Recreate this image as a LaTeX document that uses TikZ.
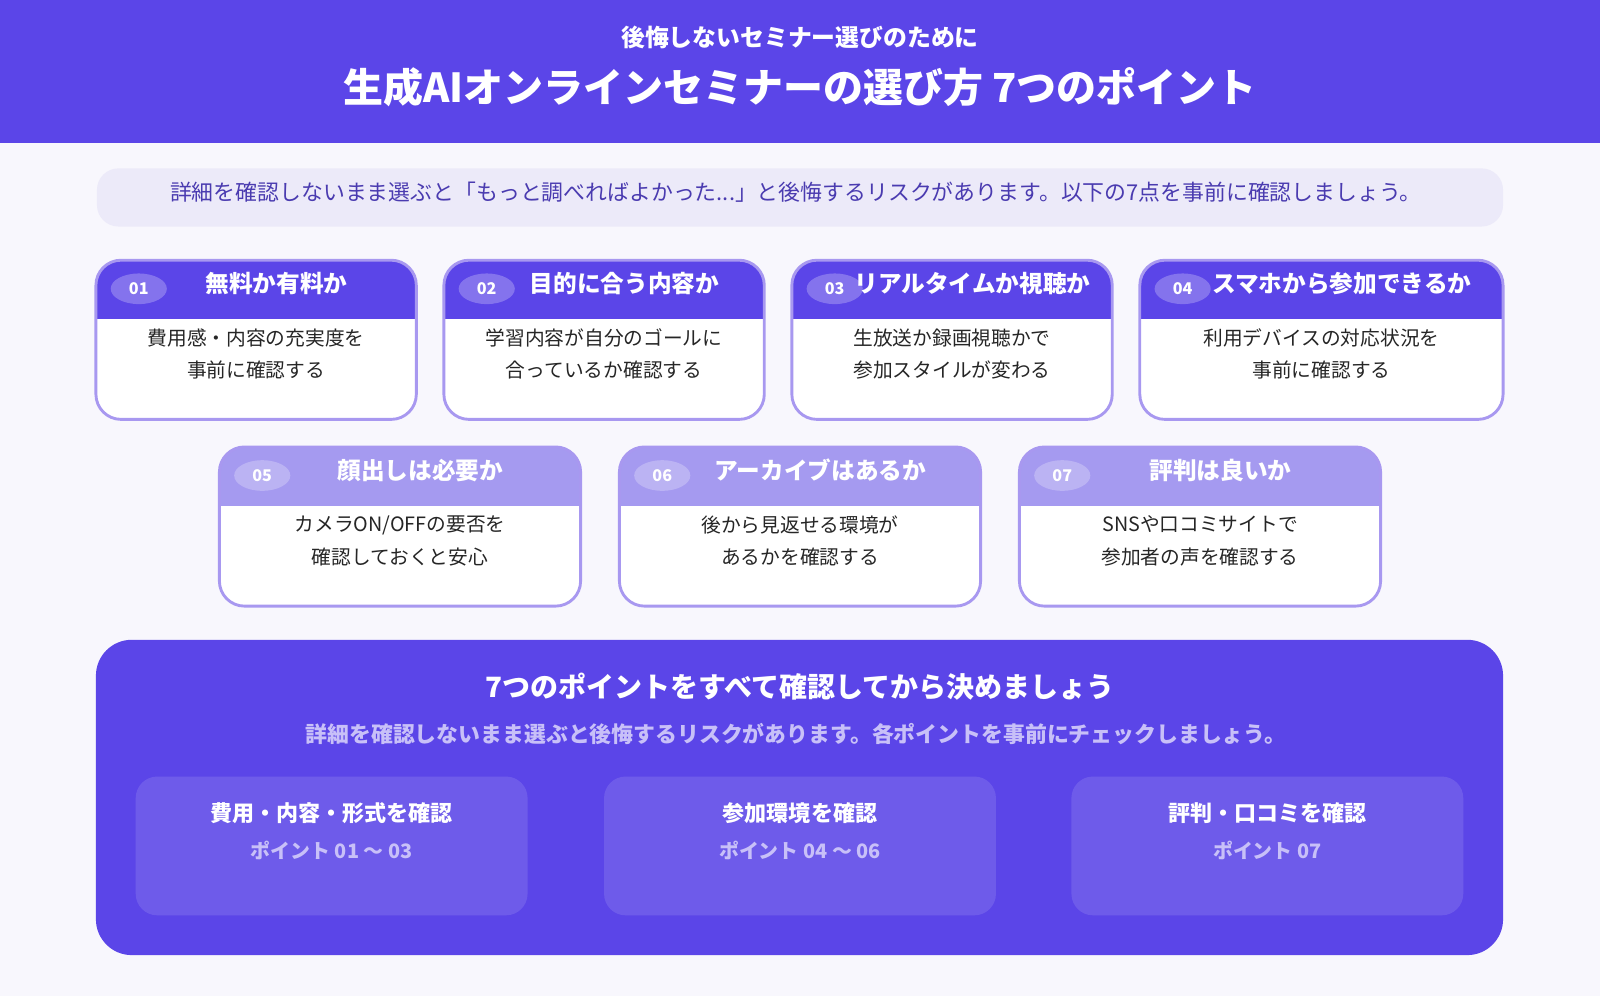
\documentclass[tikz,border=0pt]{standalone}
\usepackage{fontspec}
\usetikzlibrary{shapes.geometric}
\setmainfont{Noto Sans CJK JP}
\definecolor{indigo}{HTML}{5B45E8}
\definecolor{lilac}{HTML}{A59AF0}
\definecolor{rim}{HTML}{A898F0}
\definecolor{paper}{HTML}{F8F7FD}
\definecolor{introbg}{HTML}{ECEAF9}
\definecolor{introfg}{HTML}{4A3BB0}
\definecolor{softfg}{HTML}{C8C0F8}
\begin{document}
\begin{tikzpicture}[
    x=0.02cm, y=-0.02cm,
    title/.style={text=white, font=\bfseries\fontsize{13.2}{15}\selectfont},
    body/.style={text=black!85, font=\fontsize{11}{18}\selectfont, align=center},
    badge/.style={ellipse, fill=white, fill opacity=.25, text opacity=1, text=white, minimum width=55*0.02cm, minimum height=30*0.02cm, inner sep=0pt, font=\bfseries\fontsize{9}{10}\selectfont},
    sumbox/.style={fill=white, fill opacity=.12, rounded corners=12}
]
\useasboundingbox (0,0) rectangle (1568,976);
\fill[paper] (0,0) rectangle (1568,976);

% Header
\fill[indigo] (0,0) rectangle (1568,140);
\node[text=white, font=\bfseries\fontsize{13.3}{15}\selectfont] (sub) at (784,37) {後悔しないセミナー選びのために};
\node[text=white, font=\bfseries\fontsize{22.3}{25}\selectfont] (head) at (784,85) {生成AIオンラインセミナーの選び方 7つのポイント};

% Intro
\fill[introbg, rounded corners=12] (95,165) rectangle (1473,222);
\node[text=introfg, font=\fontsize{12.2}{14}\selectfont] (intro) at (780,188) {詳細を確認しないまま選ぶと「もっと調べればよかった...」と後悔するリスクがあります。以下の7点を事前に確認しましょう。};

% Cards
\foreach \n/\xa/\xb/\ya/\hc/\ttl/\la/\lb in {
  01/94/408/255/indigo/無料か有料か/費用感・内容の充実度を/事前に確認する,
  02/435/749/255/indigo/目的に合う内容か/学習内容が自分のゴールに/合っているか確認する,
  03/776/1090/255/indigo/リアルタイムか視聴か/生放送か録画視聴かで/参加スタイルが変わる,
  04/1117/1473/255/indigo/スマホから参加できるか/利用デバイスの対応状況を/事前に確認する,
  05/215/569/438/lilac/顔出しは必要か/{カメラON/OFFの要否を}/確認しておくと安心,
  06/607/961/438/lilac/アーカイブはあるか/後から見返せる環境が/あるかを確認する,
  07/999/1353/438/lilac/評判は良いか/SNSや口コミサイトで/参加者の声を確認する}{
  \fill[white, rounded corners=14] (\xa,\ya) rectangle (\xb,\ya+156);
  \begin{scope}
    \clip[rounded corners=14] (\xa,\ya) rectangle (\xb,\ya+156);
    \fill[\hc] (\xa,\ya) rectangle (\xb,\ya+58);
  \end{scope}
  \draw[rim, line width=1.6pt, rounded corners=14] (\xa,\ya) rectangle (\xb,\ya+156);
  \node[badge] (b\n) at (\xa+42,\ya+28) {\n};
  \node[title] (t\n) at ({(\xa+\xb)/2+20},\ya+23) {\ttl};
  \node[body] (d\n) at ({(\xa+\xb)/2},\ya+92) {\la\\\lb};
}

% Summary panel
\fill[indigo, rounded corners=20] (94,627) rectangle (1473,936);
\node[text=white, font=\bfseries\fontsize{15.6}{17}\selectfont] (sumt) at (784,673) {7つのポイントをすべて確認してから決めましょう};
\node[text=softfg, font=\bfseries\fontsize{12.2}{14}\selectfont] (sums) at (780,719) {詳細を確認しないまま選ぶと後悔するリスクがあります。各ポイントを事前にチェックしましょう。};
\foreach \k/\xa/\ta/\tb in {1/133/費用・内容・形式を確認/ポイント 01 〜 03,
                             2/592/参加環境を確認/ポイント 04 〜 06,
                             3/1050/評判・口コミを確認/ポイント 07}{
  \fill[sumbox] (\xa,761) rectangle (\xa+384,897);
  \node[text=white, font=\bfseries\fontsize{12.3}{14}\selectfont] (g\k) at (\xa+192,797) {\ta};
  \node[text=softfg, font=\bfseries\fontsize{11.1}{13}\selectfont] (p\k) at (\xa+192,833) {\tb};
}
\end{tikzpicture}
\end{document}
